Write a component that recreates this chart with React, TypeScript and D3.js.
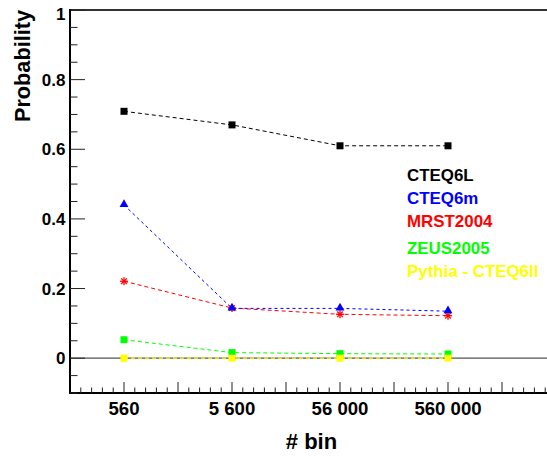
import React from "react";
import * as d3 from "d3";

// Bin-count settings along the x axis (plotted at positions 1..4)
const binPositions = [1, 2, 3, 4];
const binLabels = ["560", "5 600", "56 000", "560 000"];

// Probability per PDF set, one value per bin setting
const cteq6l = [0.709, 0.67, 0.61, 0.61];
const cteq6m = [0.44, 0.143, 0.143, 0.135];
const mrst2004 = [0.221, 0.144, 0.126, 0.122];
const zeus2005 = [0.053, 0.016, 0.013, 0.012];
const pythiaCteq6ll = [0, 0, 0, 0];

const seriesNames = ["CTEQ6L", "CTEQ6m", "MRST2004", "ZEUS2005", "Pythia - CTEQ6ll"];
const seriesColors = ["#000000", "#0000ff", "#ff0000", "#00ff00", "#ffff00"];

const yMajorTicks = [0, 0.2, 0.4, 0.6, 0.8, 1];
const yTickLabels = ["0", "0.2", "0.4", "0.6", "0.8", "1"];

const W = 547;
const H = 458;
const FONT = "'Liberation Sans', Arial, Helvetica, sans-serif";

export default function App() {
  const x = d3.scaleLinear().domain([0.5, 5]).range([70, 556]);
  const y = d3.scaleLinear().domain([-0.1, 1]).range([393, 10]);

  const line = d3
    .line<[number, number]>()
    .x((d) => x(d[0]))
    .y((d) => y(d[1]));

  const pts = (vals: number[]) => binPositions.map((p, i) => [p, vals[i]] as [number, number]);

  // y ticks: minor every 0.05, major every 0.2
  const yMinor = d3.range(-0.1, 1.0001, 0.05).map((v) => Math.round(v * 100) / 100);
  // x ticks: minor every 0.1, major every 0.5
  const xMinor = d3.range(0.6, 5.0001, 0.1).map((v) => Math.round(v * 10) / 10);

  const square = (vals: number[], color: string, key: string) =>
    pts(vals).map((d, i) => (
      <rect key={key + i} x={x(d[0]) - 3.5} y={y(d[1]) - 3.5} width={7} height={7} fill={color} />
    ));

  const triangle = d3.symbol().type(d3.symbolTriangle).size(34)();
  const star = (cx: number, cy: number, color: string, key: string) => {
    const r = 4;
    const segs = [0, 45, 90, 135].map((a) => {
      const rad = (a * Math.PI) / 180;
      return (
        <line
          key={key + a}
          x1={cx - r * Math.cos(rad)}
          y1={cy - r * Math.sin(rad)}
          x2={cx + r * Math.cos(rad)}
          y2={cy + r * Math.sin(rad)}
          stroke={color}
          strokeWidth={1.3}
        />
      );
    });
    return <g key={key}>{segs}</g>;
  };

  const dash = "4 3";

  return (
    <svg
      width={W}
      height={H}
      style={{ position: "absolute", left: 0, top: 0, background: "#fff" }}
      fontFamily={FONT}
    >
      <rect x={0} y={0} width={W} height={H} fill="#fff" />

      {/* zero reference line */}
      <line x1={70} x2={W} y1={y(0)} y2={y(0)} stroke="#555" strokeWidth={1.2} />

      {/* frame lines */}
      <line x1={70} x2={W} y1={10} y2={10} stroke="#333" strokeWidth={2} />
      <line x1={70} x2={70} y1={9} y2={394} stroke="#000" strokeWidth={2} />
      <line x1={69} x2={W} y1={393} y2={393} stroke="#000" strokeWidth={2} />

      {/* y ticks */}
      {yMinor.map((v) => {
        const major = yMajorTicks.some((m) => Math.abs(m - v) < 1e-6);
        return (
          <line
            key={"yt" + v}
            x1={70}
            x2={70 + (major ? 15 : 7.5)}
            y1={y(v)}
            y2={y(v)}
            stroke="#222"
            strokeWidth={1}
          />
        );
      })}
      {yMajorTicks.map((v, i) => (
        <text
          key={"yl" + v}
          x={65.5}
          y={v === 1 ? 19.5 : y(v) + 6}
          textAnchor="end"
          fontSize={17}
          fontWeight="bold"
        >
          {yTickLabels[i]}
        </text>
      ))}

      {/* x ticks */}
      {xMinor.map((v) => {
        const major = Math.abs(v * 2 - Math.round(v * 2)) < 1e-6;
        return (
          <line
            key={"xt" + v}
            x1={x(v)}
            x2={x(v)}
            y1={393}
            y2={393 - (major ? 11 : 5.5)}
            stroke="#222"
            strokeWidth={1}
          />
        );
      })}
      {binPositions.map((p, i) => (
        <text
          key={"xl" + p}
          x={x(p)}
          y={415}
          textAnchor="middle"
          fontSize={18.6}
          fontWeight="bold"
        >
          {binLabels[i]}
        </text>
      ))}

      {/* axis titles */}
      <text x={311.5} y={449} textAnchor="middle" fontSize={22} fontWeight="bold">
        # bin
      </text>
      <text
        transform="translate(29.5,10) rotate(-90)"
        textAnchor="end"
        fontSize={21.7}
        fontWeight="bold"
      >
        Probability
      </text>

      {/* series lines */}
      <path d={line(pts(cteq6l)) || ""} fill="none" stroke={seriesColors[0]} strokeWidth={1} strokeDasharray={dash} />
      <path d={line(pts(mrst2004)) || ""} fill="none" stroke={seriesColors[2]} strokeWidth={1} strokeDasharray={dash} />
      <path d={line(pts(cteq6m)) || ""} fill="none" stroke={seriesColors[1]} strokeWidth={1} strokeDasharray="3 3" />
      <path d={line(pts(zeus2005)) || ""} fill="none" stroke={seriesColors[3]} strokeWidth={1} strokeDasharray={dash} />
      <path d={line(pts(pythiaCteq6ll)) || ""} fill="none" stroke={seriesColors[4]} strokeWidth={1.2} strokeDasharray={dash} />

      {/* markers */}
      {square(cteq6l, seriesColors[0], "c6l")}
      {pts(mrst2004).map((d, i) => star(x(d[0]), y(d[1]), seriesColors[2], "mr" + i))}
      {pts(cteq6m).map((d, i) => (
        <path
          key={"c6m" + i}
          d={triangle || ""}
          transform={`translate(${x(d[0])},${y(d[1]) - 0.5})`}
          fill={seriesColors[1]}
        />
      ))}
      {square(zeus2005, seriesColors[3], "zeus")}
      {square(pythiaCteq6ll, seriesColors[4], "py")}

      {/* legend text */}
      {seriesNames.map((name, i) => (
        <text
          key={name}
          x={407}
          y={[180.7, 203.7, 227.3, 254, 277.3][i]}
          fontSize={16.9}
          fontWeight="bold"
          fill={seriesColors[i]}
        >
          {name}
        </text>
      ))}
    </svg>
  );
}
